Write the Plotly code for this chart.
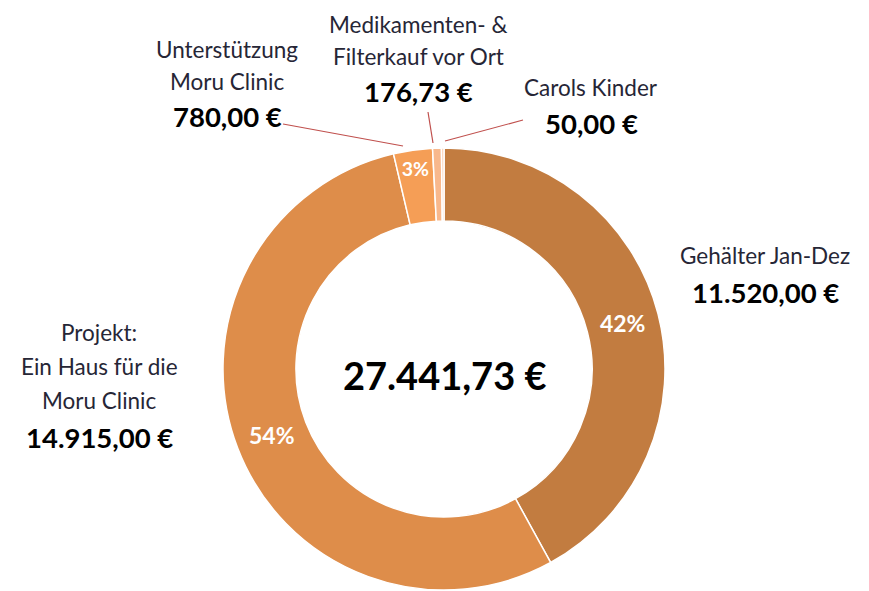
import plotly.graph_objects as go

categories = ["Gehälter Jan-Dez", "Projekt: Ein Haus für die Moru Clinic",
              "Unterstützung Moru Clinic", "Medikamenten- & Filterkauf vor Ort", "Carols Kinder"]
values = [11520.00, 14915.00, 780.00, 176.73, 50.00]
colors = ["#C27C40", "#DE8D4A", "#F59E56", "#F8B88C", "#FBCDAE"]
label_lines = [["Gehälter Jan-Dez"],
               ["Projekt:", "Ein Haus für die", "Moru Clinic"],
               ["Unterstützung", "Moru Clinic"],
               ["Medikamenten- &", "Filterkauf vor Ort"],
               ["Carols Kinder"]]

def de(v):
    s = f"{v:,.2f}"
    return s.replace(",", "X").replace(".", ",").replace("X", ".") + " €"

total = sum(values)
pct_text = [f"{v/total:.0%}" if v / total >= 0.02 else "" for v in values]

FONT = "Lato, 'Open Sans', sans-serif"
W, H = 869, 591
OFF = 8  # browser default body margin

def px(x):
    return (x - OFF) / W

def py(y):
    return 1 - (y - OFF) / H

fig = go.Figure(go.Pie(
    labels=categories, values=values, sort=False, direction="clockwise", rotation=0,
    hole=0.67, marker=dict(colors=colors, line=dict(color="white", width=1.5)),
    text=pct_text, texttemplate="%{text}", textinfo="text", textposition="inside",
    insidetextorientation="horizontal",
    textfont=dict(family=FONT, size=23, color="white", weight="bold"),
    domain=dict(x=[px(223), px(665)], y=[py(590), py(148)]),
    showlegend=False, hoverinfo="label+value+percent",
))

annotations = []
def add(text, x, y, size, bold=False, color="#1a1a1a"):
    annotations.append(dict(text=text, x=px(x), y=py(y), xref="paper", yref="paper",
                            showarrow=False, xanchor="center", yanchor="middle",
                            font=dict(family=FONT, size=size, color=color,
                                      weight="bold" if bold else "normal")))

# (center x, first line y, line spacing, value gap)
pos = [(765, 255, 33.5, 37), (99, 333, 33.5, 37), (227, 50, 32, 35),
       (418, 24, 32, 36), (591, 87, 33.5, 37)]
for i, (x, y, sp, gap) in enumerate(pos):
    lines = label_lines[i]
    for j, line in enumerate(lines):
        add(line, x, y + j * sp, 22.5, color="#262636")
    add(de(values[i]), x, y + (len(lines) - 1) * sp + gap, 27.5, bold=True, color="#000000")

add(de(total), 444, 375, 38, bold=True, color="#000000")

shapes = []
leaders = [((283, 124), (403, 146)), ((428, 112), (433, 143)), ((523, 120), (445, 141))]
for (x0, y0), (x1, y1) in leaders:
    shapes.append(dict(type="line", xref="paper", yref="paper",
                       x0=px(x0), y0=py(y0), x1=px(x1), y1=py(y1),
                       line=dict(color="#C0504D", width=1.2)))

fig.update_layout(width=W, height=H, margin=dict(l=0, r=0, t=0, b=0),
                  paper_bgcolor="white", plot_bgcolor="white",
                  annotations=annotations, shapes=shapes)
fig.write_html("out.html")
